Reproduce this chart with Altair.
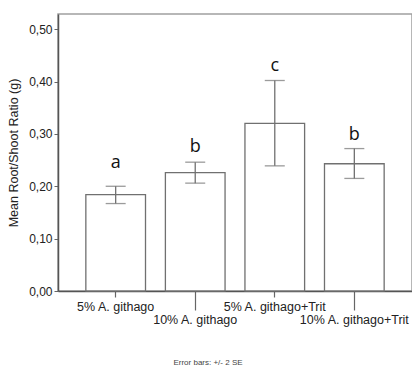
import altair as alt
import pandas as pd

groups = ["5% A. githago", "10% A. githago", "5% A. githago+Trit", "10% A. githago+Trit"]
means = [0.184, 0.226, 0.320, 0.243]
err_low = [0.167, 0.206, 0.239, 0.215]
err_high = [0.200, 0.246, 0.402, 0.272]
letters = ["a", "b", "c", "b"]
letter_y = [0.234, 0.265, 0.420, 0.288]
y_ticks = [0.0, 0.1, 0.2, 0.3, 0.4, 0.5]

df = pd.DataFrame({
    "group": groups,
    "mean": means,
    "lo": err_low,
    "hi": err_high,
    "letter": letters,
    "ly": letter_y,
})

GRAY = "#707070"
long_test = "substring(datum.value, 0, 3) == '10%'"

x = alt.X(
    "group:N",
    sort=groups,
    scale=alt.Scale(paddingInner=0.25, paddingOuter=0.35),
    axis=alt.Axis(
        title=None,
        labelAngle=0,
        labelFont="Liberation Sans",
        labelFontSize=12.5,
        labelColor="#222222",
        domainColor="#555555",
        domainWidth=1.5,
        tickColor="#666666",
        tickWidth=1.2,
        tickSize={"condition": {"test": long_test, "value": 19}, "value": 6},
        labelPadding=3,
        labelBaseline="top",
    ),
)

y_scale = alt.Scale(domain=[0, 0.529], nice=False, zero=True)
y_axis = alt.Axis(
    title="Mean Root/Shoot Ratio (g)",
    titleFont="Liberation Sans",
    titleFontSize=12.5,
    titleFontWeight="normal",
    titleColor="#222222",
    titlePadding=8,
    values=y_ticks,
    labelExpr="replace(format(datum.value, '.2f'), '.', ',')",
    labelFont="Liberation Sans",
    labelFontSize=12,
    labelColor="#222222",
    labelPadding=2,
    tickSize=4,
    tickColor="#666666",
    domainColor="#555555",
    domainWidth=1.5,
    grid=False,
)

base = alt.Chart(df)

bars = base.mark_bar(fill="white", stroke=GRAY, strokeWidth=1.3).encode(
    x=x,
    y=alt.Y("mean:Q", scale=y_scale, axis=y_axis),
)

rules = base.mark_rule(color=GRAY, strokeWidth=1.3).encode(
    x=alt.X("group:N", sort=groups),
    y=alt.Y("lo:Q"),
    y2="hi:Q",
)

caps_hi = base.mark_tick(color=GRAY, thickness=1.3, size=20, orient="horizontal").encode(
    x=alt.X("group:N", sort=groups),
    y=alt.Y("hi:Q"),
)
caps_lo = base.mark_tick(color=GRAY, thickness=1.3, size=20, orient="horizontal").encode(
    x=alt.X("group:N", sort=groups),
    y=alt.Y("lo:Q"),
)

labels = base.mark_text(font="Open Sans", fontSize=18, color="#111111", baseline="alphabetic").encode(
    x=alt.X("group:N", sort=groups),
    y=alt.Y("ly:Q"),
    text="letter:N",
)

chart = alt.layer(bars, rules, caps_hi, caps_lo, labels).properties(
    width=354,
    height=277,
    background="white",
    autosize=alt.AutoSizeParams(type="none"),
    padding={"left": 58, "top": 14, "right": 0, "bottom": 74},
    title=alt.TitleParams(
        "Error bars: +/- 2 SE",
        orient="bottom",
        anchor="middle",
        font="Liberation Sans Narrow, Liberation Sans",
        fontSize=8,
        fontWeight="normal",
        color="#444444",
        offset=33,
        dx=-27,
    ),
).configure_view(stroke="#a0a0a0", strokeWidth=1.5)

chart.save("out.html", embed_options={"renderer": "svg", "actions": False})
